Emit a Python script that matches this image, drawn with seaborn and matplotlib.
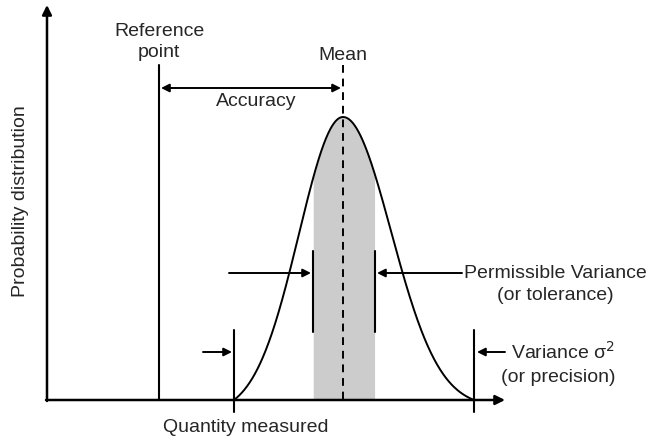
import numpy as np
import pandas as pd
import matplotlib
matplotlib.use("Agg")
import matplotlib.pyplot as plt
import seaborn as sns

# ---- diagram quantities (in axis units, x to the right, y downward in pixels) ----
reference_value = 159
mean_value = 343
sigma_left = 44
sigma_right = 48
support_left = 109       # curve reaches baseline at mean - this
support_right = 131      # curve reaches baseline at mean + this
peak_height = 283
tolerance_low = 313
tolerance_high = 375
baseline = 400

labels = {
    "ref": "Reference\npoint",
    "mean": "Mean",
    "acc": "Accuracy",
    "perm": "Permissible Variance",
    "perm2": "(or tolerance)",
    "var": "Variance σ$^2$",
    "var2": "(or precision)",
    "xlab": "Quantity measured",
    "ylab": "Probability distribution",
}

sns.set_theme(style="white")
plt.rcParams["font.family"] = ["Liberation Sans", "DejaVu Sans"]

fig = plt.figure(figsize=(6.65, 4.41), dpi=100)
ax = fig.add_axes([0, 0, 1, 1])
ax.set_xlim(0, 665)
ax.set_ylim(441, 0)
ax.axis("off")


def half_curve(xs, s, support):
    g = np.exp(-0.5 * ((xs - mean_value) / s) ** 2)
    g0 = np.exp(-0.5 * (support / s) ** 2)
    return (g - g0) / (1 - g0)


xl = np.linspace(mean_value - support_left, mean_value, 250)
xr = np.linspace(mean_value, mean_value + support_right, 250)[1:]
x = np.concatenate([xl, xr])
dens = np.concatenate([half_curve(xl, sigma_left, support_left),
                       half_curve(xr, sigma_right, support_right)])
curve = pd.DataFrame({"x": x, "y": baseline - peak_height * dens})

# shaded tolerance band under the curve
mask = (curve["x"] >= tolerance_low) & (curve["x"] <= tolerance_high)
ax.fill_between(curve["x"][mask], curve["y"][mask], baseline, color="#cccccc", lw=0, zorder=1)

sns.lineplot(data=curve, x="x", y="y", ax=ax, color="black", lw=1.4, zorder=3, sort=False)

fs = 14
ap = dict(arrowstyle="-|>", color="black", lw=1.4, mutation_scale=12, shrinkA=0, shrinkB=0)

# axes with arrows
ax.annotate("", xy=(47, 5), xytext=(47, baseline + 1), arrowprops=dict(ap, lw=1.8, mutation_scale=14))
ax.annotate("", xy=(505, baseline), xytext=(46, baseline), arrowprops=dict(ap, lw=1.8, mutation_scale=14))

# reference line
ax.plot([reference_value, reference_value], [65, baseline], color="black", lw=1.5, zorder=3)
# mean dashed line
ax.plot([mean_value, mean_value], [65, baseline], color="black", lw=1.4, ls=(0, (4, 3)), zorder=4)

# accuracy arrow (double-headed)
ax.annotate("", xy=(341, 88), xytext=(161, 88),
            arrowprops=dict(arrowstyle="<|-|>", color="black", lw=1.4, mutation_scale=12, shrinkA=0, shrinkB=0))

# tolerance bars and arrows
for xv in (tolerance_low, tolerance_high):
    ax.plot([xv, xv], [251, 332], color="black", lw=1.5, zorder=4)
ax.annotate("", xy=(311, 273), xytext=(229, 273), arrowprops=ap)
ax.annotate("", xy=(377, 273), xytext=(462, 273), arrowprops=ap)

# variance bars and arrows
for xv in (mean_value - support_left, mean_value + support_right):
    ax.plot([xv, xv], [330, 412], color="black", lw=1.5, zorder=4)
ax.annotate("", xy=(232, 352), xytext=(203, 352), arrowprops=ap)
ax.annotate("", xy=(477, 352), xytext=(505, 352), arrowprops=ap)

# texts
ax.text(reference_value, 42, labels["ref"], ha="center", va="center", fontsize=fs, linespacing=1.25)
ax.text(mean_value, 56, labels["mean"], ha="center", va="center", fontsize=fs)
ax.text(256, 102, labels["acc"], ha="center", va="center", fontsize=fs)
ax.text(555, 273, labels["perm"], ha="center", va="center", fontsize=fs)
ax.text(555, 296, labels["perm2"], ha="center", va="center", fontsize=fs)
ax.text(511, 352, labels["var"], ha="left", va="center", fontsize=fs)
ax.text(558, 377, labels["var2"], ha="center", va="center", fontsize=fs)
ax.text(246, 428, labels["xlab"], ha="center", va="center", fontsize=fs)
ax.text(21, 201, labels["ylab"], ha="center", va="center", rotation=90, fontsize=fs)

fig.savefig("out.png", dpi=100)
